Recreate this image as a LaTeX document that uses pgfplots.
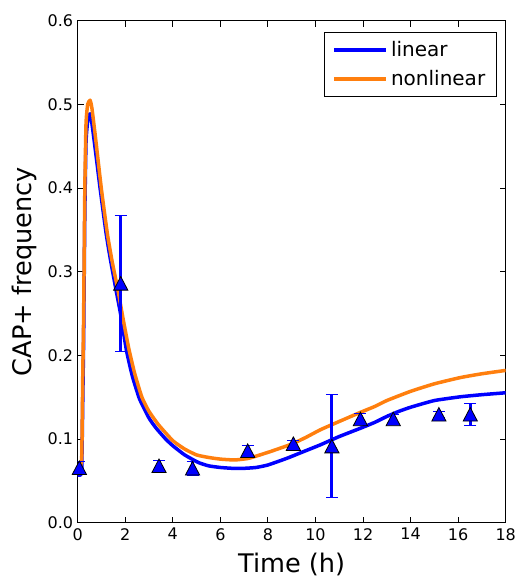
\documentclass[border=0pt]{standalone}
\usepackage{pgfplots}
\pgfplotsset{compat=1.18}
\usepackage{fontspec}
\setmainfont{DejaVu Sans}
\definecolor{mplblue}{RGB}{0,0,255}
\definecolor{mplorange}{RGB}{255,127,14}
\begin{document}
\begin{tikzpicture}
\begin{axis}[
  scale only axis,
  width=428pt, height=502pt,
  xmin=0, xmax=18, ymin=0, ymax=0.6,
  xtick={0,2,...,18},
  ytick={0,0.1,...,0.6},
  yticklabel style={xshift=-1pt, /pgf/number format/.cd, fixed, fixed zerofill, precision=1},
  /pgf/number format/assume math mode=true,
  tick label style={font=\fontsize{16}{19}\selectfont},
  xticklabel style={yshift=-2pt},
  tick align=inside,
  major tick length=6pt,
  minor tick num=0,
  axis line style={line width=1.2pt},
  every tick/.style={black, line width=0.9pt},
  xlabel={Time (h)},
  ylabel={CAP+ frequency},
  label style={font=\fontsize{25.6}{30}\selectfont},
  xlabel style={yshift=-5.5pt},
  ylabel style={yshift=4pt},
  legend style={at={(1,1)}, anchor=north east, xshift=-9pt, yshift=-11.6pt,
    draw=black, line width=1pt, font=\fontsize{20}{24}\selectfont,
    inner xsep=8pt, inner ysep=7pt, row sep=8pt,
    nodes={inner xsep=3pt}},
  legend cell align=left,
  legend image code/.code={\draw[#1, line width=3.5pt] (0pt,0pt) -- (33pt,0pt); \path (0pt,0pt) -- (52pt,0pt);},
]
\addplot[mplblue, line width=3.5pt, line join=round, smooth, tension=0.3] coordinates {
(0,0.057) (0.12,0.057) (0.17,0.065) (0.21,0.14) (0.25,0.22) (0.3,0.37) (0.35,0.455) (0.42,0.48) (0.5,0.488) (0.55,0.487)
(0.7,0.455) (0.95,0.398) (1.2,0.345) (1.38,0.314) (1.62,0.277) (1.8,0.250) (2.05,0.206) (2.3,0.175) (2.6,0.148) (3.0,0.125) (3.3,0.113)
(3.7,0.100) (4.0,0.092) (4.5,0.081) (5.07,0.072) (5.5,0.068) (6.0,0.066) (6.5,0.065) (7.0,0.065) (7.5,0.066) (8.0,0.069) (8.8,0.077)
(9.5,0.085) (10.2,0.093) (11.0,0.103) (11.9,0.113) (12.5,0.120) (13.0,0.127) (13.5,0.133) (14.0,0.138) (15.0,0.146) (16.1,0.1505) (17,0.153) (18,0.1553)
};
\addlegendentry{linear}
\addplot[mplorange, line width=3.5pt, line join=round, smooth, tension=0.3] coordinates {
(0,0.066) (0.1,0.066) (0.17,0.079) (0.21,0.17) (0.25,0.25) (0.3,0.40) (0.35,0.477) (0.42,0.50) (0.52,0.505) (0.6,0.495)
(0.75,0.46) (1.0,0.398) (1.25,0.345) (1.45,0.312) (1.7,0.277) (1.9,0.245) (2.15,0.208) (2.4,0.178) (2.7,0.150) (3.0,0.133) (3.4,0.117)
(4.0,0.098) (4.5,0.088) (5.0,0.081) (5.5,0.078) (6.0,0.076) (6.6,0.075) (7.2,0.077) (8.1,0.085) (9.0,0.094) (9.6,0.102) (10.2,0.111)
(11.0,0.121) (11.9,0.132) (12.5,0.139) (13.0,0.146) (14.0,0.157) (15.0,0.166) (16.1,0.1735) (17,0.178) (18,0.182)
};
\addlegendentry{nonlinear}
\addplot[only marks, forget plot, mplblue,
  mark=triangle*, mark size=8.2pt,
  mark options={fill=mplblue, draw=black, line width=0.8pt, yscale=1.1, yshift=-2pt},
  error bars/.cd, y dir=both, y explicit,
  error bar style={line width=3pt, mplblue},
  error mark options={rotate=90, mark size=6pt, line width=1pt, mplblue}]
  coordinates {
  (0.07,0.0657) +- (0,0.008)
  (1.81,0.286) +- (0,0.081)
  (3.42,0.068) +- (0,0.006)
  (4.83,0.065) +- (0,0.008)
  (7.15,0.086) +- (0,0.0065)
  (9.07,0.0944) +- (0,0.004)
  (10.69,0.0915) +- (0,0.0615)
  (11.89,0.124) +- (0,0.0067)
  (13.27,0.124) +- (0,0.005)
  (15.19,0.1295) +- (0,0.004)
  (16.51,0.1295) +- (0,0.013)
};
\end{axis}
\pgfresetboundingbox
\path ([shift={(-77.7pt,-54.3pt)}]current axis.south west) rectangle ([shift={(11pt,20.7pt)}]current axis.north east);
\end{tikzpicture}
\end{document}
